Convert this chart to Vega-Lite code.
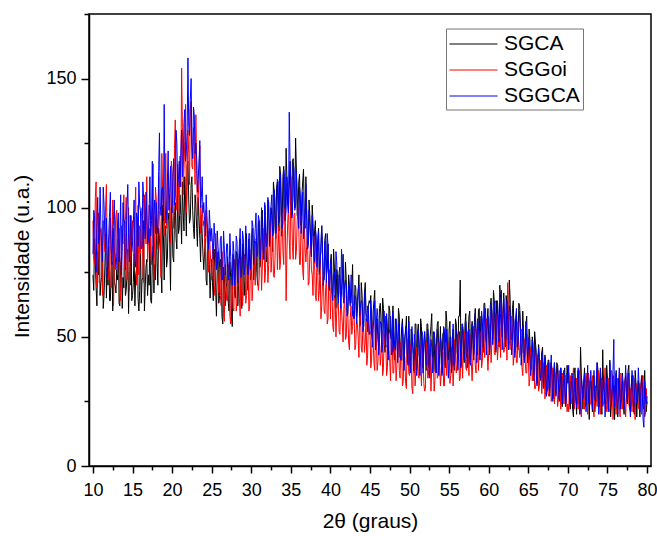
{
  "$schema": "https://vega.github.io/schema/vega-lite/v6.json",
  "width": 562,
  "height": 452,
  "autosize": {"type": "none"},
  "padding": {"left": 89, "top": 14, "right": 6, "bottom": 70},
  "background": "white",
  "config": {
    "font": "Liberation Sans",
    "view": {"stroke": "black", "strokeWidth": 1.5},
    "axis": {
      "grid": false,
      "domainColor": "black",
      "domainWidth": 1.5,
      "tickColor": "black",
      "tickWidth": 1.5,
      "labelColor": "black",
      "labelFontSize": 18,
      "titleColor": "black",
      "titleFontSize": 21,
      "titleFontWeight": "normal"
    }
  },
  "data": {
    "values": [
      {"t":10,"SGCA":74,"SGGoi":95,"SGGCA":82},{"t":10.2,"SGCA":88,"SGGoi":78,"SGGCA":97},{"t":10.4,"SGCA":69,"SGGoi":110,"SGGCA":75},{"t":10.6,"SGCA":83,"SGGoi":84,"SGGCA":104},{"t":10.8,"SGCA":95,"SGGoi":71,"SGGCA":90},
      {"t":11,"SGCA":71,"SGGoi":92,"SGGCA":93},{"t":11.2,"SGCA":84,"SGGoi":66,"SGGCA":79},{"t":11.4,"SGCA":66,"SGGoi":88,"SGGCA":101},{"t":11.6,"SGCA":90,"SGGoi":101,"SGGCA":84},{"t":11.8,"SGCA":77,"SGGoi":80,"SGGCA":73},
      {"t":12,"SGCA":85,"SGGoi":73,"SGGCA":90},{"t":12.2,"SGCA":64,"SGGoi":96,"SGGCA":106},{"t":12.4,"SGCA":79,"SGGoi":85,"SGGCA":78},{"t":12.6,"SGCA":92,"SGGoi":62,"SGGCA":95},{"t":12.8,"SGCA":70,"SGGoi":90,"SGGCA":83},
      {"t":13,"SGCA":76,"SGGoi":99,"SGGCA":81},{"t":13.2,"SGCA":88,"SGGoi":81,"SGGCA":98},{"t":13.4,"SGCA":62,"SGGoi":70,"SGGCA":88},{"t":13.6,"SGCA":81,"SGGoi":93,"SGGCA":74},{"t":13.8,"SGCA":73,"SGGoi":86,"SGGCA":102},
      {"t":14,"SGCA":90,"SGGoi":76,"SGGCA":95},{"t":14.2,"SGCA":68,"SGGoi":104,"SGGCA":84},{"t":14.4,"SGCA":84,"SGGoi":83,"SGGCA":109},{"t":14.6,"SGCA":75,"SGGoi":68,"SGGCA":79},{"t":14.8,"SGCA":97,"SGGoi":91,"SGGCA":92},
      {"t":15,"SGCA":66,"SGGoi":95,"SGGCA":86},{"t":15.2,"SGCA":82,"SGGoi":79,"SGGCA":103},{"t":15.4,"SGCA":74,"SGGoi":108,"SGGCA":77},{"t":15.6,"SGCA":91,"SGGoi":86,"SGGCA":96},{"t":15.8,"SGCA":60,"SGGoi":74,"SGGCA":110},
      {"t":16,"SGCA":87,"SGGoi":82,"SGGCA":99},{"t":16.2,"SGCA":72,"SGGoi":100,"SGGCA":85},{"t":16.4,"SGCA":95,"SGGoi":71,"SGGCA":104},{"t":16.6,"SGCA":69,"SGGoi":94,"SGGCA":88},{"t":16.8,"SGCA":80,"SGGoi":112,"SGGCA":97},
      {"t":17,"SGCA":74,"SGGoi":86,"SGGCA":87},{"t":17.2,"SGCA":92,"SGGoi":97,"SGGCA":112},{"t":17.4,"SGCA":63,"SGGoi":78,"SGGCA":95},{"t":17.6,"SGCA":85,"SGGoi":117,"SGGCA":81},{"t":17.8,"SGCA":78,"SGGoi":90,"SGGCA":103},
      {"t":18,"SGCA":96,"SGGoi":103,"SGGCA":102},{"t":18.2,"SGCA":70,"SGGoi":84,"SGGCA":90},{"t":18.4,"SGCA":88,"SGGoi":99,"SGGCA":129},{"t":18.6,"SGCA":76,"SGGoi":73,"SGGCA":97},{"t":18.8,"SGCA":101,"SGGoi":107,"SGGCA":108},
      {"t":19,"SGCA":72,"SGGoi":89,"SGGCA":140},{"t":19.2,"SGCA":93,"SGGoi":121,"SGGCA":94},{"t":19.4,"SGCA":80,"SGGoi":95,"SGGCA":110},{"t":19.6,"SGCA":98,"SGGoi":104,"SGGCA":99},{"t":19.8,"SGCA":68,"SGGoi":86,"SGGCA":116},
      {"t":20,"SGCA":95,"SGGoi":114,"SGGCA":98},{"t":20.2,"SGCA":79,"SGGoi":92,"SGGCA":119},{"t":20.4,"SGCA":102,"SGGoi":134,"SGGCA":104},{"t":20.6,"SGCA":84,"SGGoi":99,"SGGCA":125},{"t":20.8,"SGCA":90,"SGGoi":108,"SGGCA":111},
      {"t":21,"SGCA":105,"SGGoi":120,"SGGCA":108},{"t":21.2,"SGCA":86,"SGGoi":154,"SGGCA":130},{"t":21.4,"SGCA":98,"SGGoi":105,"SGGCA":117},{"t":21.6,"SGCA":112,"SGGoi":126,"SGGCA":138},{"t":21.8,"SGCA":89,"SGGoi":98,"SGGCA":122},
      {"t":22,"SGCA":118,"SGGoi":130,"SGGCA":158},{"t":22.2,"SGCA":94,"SGGoi":109,"SGGCA":128},{"t":22.4,"SGCA":109,"SGGoi":141,"SGGCA":150},{"t":22.6,"SGCA":99,"SGGoi":115,"SGGCA":119},{"t":22.8,"SGCA":88,"SGGoi":124,"SGGCA":136},
      {"t":23,"SGCA":101,"SGGoi":136,"SGGCA":125},{"t":23.2,"SGCA":85,"SGGoi":97,"SGGCA":106},{"t":23.4,"SGCA":96,"SGGoi":112,"SGGCA":118},{"t":23.6,"SGCA":79,"SGGoi":90,"SGGCA":100},{"t":23.8,"SGCA":90,"SGGoi":101,"SGGCA":112},
      {"t":24,"SGCA":76,"SGGoi":95,"SGGCA":102},{"t":24.2,"SGCA":88,"SGGoi":80,"SGGCA":89},{"t":24.4,"SGCA":70,"SGGoi":91,"SGGCA":97},{"t":24.6,"SGCA":84,"SGGoi":75,"SGGCA":84},{"t":24.8,"SGCA":65,"SGGoi":84,"SGGCA":93},
      {"t":25,"SGCA":80,"SGGoi":72,"SGGCA":92},{"t":25.2,"SGCA":64,"SGGoi":86,"SGGCA":80},{"t":25.4,"SGCA":77,"SGGoi":66,"SGGCA":88},{"t":25.6,"SGCA":58,"SGGoi":81,"SGGCA":76},{"t":25.8,"SGCA":83,"SGGoi":74,"SGGCA":85},
      {"t":26,"SGCA":66,"SGGoi":79,"SGGCA":77},{"t":26.2,"SGCA":79,"SGGoi":62,"SGGCA":89},{"t":26.4,"SGCA":55,"SGGoi":75,"SGGCA":73},{"t":26.6,"SGCA":74,"SGGoi":56,"SGGCA":84},{"t":26.8,"SGCA":68,"SGGoi":70,"SGGCA":79},
      {"t":27,"SGCA":81,"SGGoi":64,"SGGCA":86},{"t":27.2,"SGCA":60,"SGGoi":76,"SGGCA":74},{"t":27.4,"SGCA":73,"SGGoi":55,"SGGCA":81},{"t":27.6,"SGCA":54,"SGGoi":71,"SGGCA":70},{"t":27.8,"SGCA":77,"SGGoi":60,"SGGCA":83},
      {"t":28,"SGCA":65,"SGGoi":77,"SGGCA":75},{"t":28.2,"SGCA":82,"SGGoi":63,"SGGCA":87},{"t":28.4,"SGCA":70,"SGGoi":80,"SGGCA":79},{"t":28.6,"SGCA":88,"SGGoi":58,"SGGCA":92},{"t":28.8,"SGCA":61,"SGGoi":73,"SGGCA":77},
      {"t":29,"SGCA":84,"SGGoi":68,"SGGCA":88},{"t":29.2,"SGCA":72,"SGGoi":81,"SGGCA":78},{"t":29.4,"SGCA":90,"SGGoi":66,"SGGCA":85},{"t":29.6,"SGCA":68,"SGGoi":78,"SGGCA":74},{"t":29.8,"SGCA":79,"SGGoi":62,"SGGCA":90},
      {"t":30,"SGCA":74,"SGGoi":84,"SGGCA":80},{"t":30.2,"SGCA":92,"SGGoi":70,"SGGCA":93},{"t":30.4,"SGCA":78,"SGGoi":79,"SGGCA":86},{"t":30.6,"SGCA":86,"SGGoi":88,"SGGCA":98},{"t":30.8,"SGCA":70,"SGGoi":72,"SGGCA":82},
      {"t":31,"SGCA":95,"SGGoi":73,"SGGCA":95},{"t":31.2,"SGCA":80,"SGGoi":86,"SGGCA":84},{"t":31.4,"SGCA":99,"SGGoi":77,"SGGCA":91},{"t":31.6,"SGCA":83,"SGGoi":92,"SGGCA":80},{"t":31.8,"SGCA":91,"SGGoi":75,"SGGCA":97},
      {"t":32,"SGCA":84,"SGGoi":90,"SGGCA":87},{"t":32.2,"SGCA":102,"SGGoi":78,"SGGCA":100},{"t":32.4,"SGCA":88,"SGGoi":95,"SGGCA":94},{"t":32.6,"SGCA":97,"SGGoi":81,"SGGCA":105},{"t":32.8,"SGCA":110,"SGGoi":74,"SGGCA":90},
      {"t":33,"SGCA":92,"SGGoi":80,"SGGCA":103},{"t":33.2,"SGCA":108,"SGGoi":97,"SGGCA":92},{"t":33.4,"SGCA":99,"SGGoi":85,"SGGCA":110},{"t":33.6,"SGCA":116,"SGGoi":76,"SGGCA":97},{"t":33.8,"SGCA":89,"SGGoi":93,"SGGCA":101},
      {"t":34,"SGCA":112,"SGGoi":83,"SGGCA":94},{"t":34.2,"SGCA":96,"SGGoi":100,"SGGCA":112},{"t":34.4,"SGCA":123,"SGGoi":64,"SGGCA":99},{"t":34.6,"SGCA":101,"SGGoi":94,"SGGCA":108},{"t":34.8,"SGCA":108,"SGGoi":88,"SGGCA":137},
      {"t":35,"SGCA":99,"SGGoi":112,"SGGCA":110},{"t":35.2,"SGCA":118,"SGGoi":85,"SGGCA":97},{"t":35.4,"SGCA":104,"SGGoi":97,"SGGCA":115},{"t":35.6,"SGCA":127,"SGGoi":80,"SGGCA":101},{"t":35.8,"SGCA":97,"SGGoi":95,"SGGCA":106},
      {"t":36,"SGCA":110,"SGGoi":93,"SGGCA":92},{"t":36.2,"SGCA":94,"SGGoi":78,"SGGCA":105},{"t":36.4,"SGCA":105,"SGGoi":90,"SGGCA":96},{"t":36.6,"SGCA":115,"SGGoi":72,"SGGCA":88},{"t":36.8,"SGCA":92,"SGGoi":84,"SGGCA":100},
      {"t":37,"SGCA":100,"SGGoi":85,"SGGCA":96},{"t":37.2,"SGCA":86,"SGGoi":70,"SGGCA":85},{"t":37.4,"SGCA":97,"SGGoi":82,"SGGCA":93},{"t":37.6,"SGCA":82,"SGGoi":76,"SGGCA":81},{"t":37.8,"SGCA":94,"SGGoi":66,"SGGCA":88},
      {"t":38,"SGCA":91,"SGGoi":78,"SGGCA":79},{"t":38.2,"SGCA":78,"SGGoi":64,"SGGCA":89},{"t":38.4,"SGCA":88,"SGGoi":75,"SGGCA":84},{"t":38.6,"SGCA":74,"SGGoi":68,"SGGCA":75},{"t":38.8,"SGCA":83,"SGGoi":57,"SGGCA":86},
      {"t":39,"SGCA":85,"SGGoi":71,"SGGCA":82},{"t":39.2,"SGCA":72,"SGGoi":60,"SGGCA":73},{"t":39.4,"SGCA":90,"SGGoi":69,"SGGCA":79},{"t":39.6,"SGCA":76,"SGGoi":55,"SGGCA":90},{"t":39.8,"SGCA":68,"SGGoi":73,"SGGCA":70},
      {"t":40,"SGCA":79,"SGGoi":57,"SGGCA":76},{"t":40.2,"SGCA":67,"SGGoi":68,"SGGCA":68},{"t":40.4,"SGCA":84,"SGGoi":52,"SGGCA":74},{"t":40.6,"SGCA":70,"SGGoi":65,"SGGCA":65},{"t":40.8,"SGCA":76,"SGGoi":60,"SGGCA":79},
      {"t":41,"SGCA":63,"SGGoi":63,"SGGCA":63},{"t":41.2,"SGCA":77,"SGGoi":51,"SGGCA":72},{"t":41.4,"SGCA":68,"SGGoi":61,"SGGCA":84},{"t":41.6,"SGCA":82,"SGGoi":48,"SGGCA":66},{"t":41.8,"SGCA":65,"SGGoi":66,"SGGCA":70},
      {"t":42,"SGCA":72,"SGGoi":50,"SGGCA":69},{"t":42.2,"SGCA":59,"SGGoi":59,"SGGCA":60},{"t":42.4,"SGCA":70,"SGGoi":45,"SGGCA":66},{"t":42.6,"SGCA":63,"SGGoi":62,"SGGCA":74},{"t":42.8,"SGCA":78,"SGGoi":54,"SGGCA":58},
      {"t":43,"SGCA":57,"SGGoi":58,"SGGCA":57},{"t":43.2,"SGCA":69,"SGGoi":47,"SGGCA":65},{"t":43.4,"SGCA":64,"SGGoi":55,"SGGCA":59},{"t":43.6,"SGCA":74,"SGGoi":42,"SGGCA":70},{"t":43.8,"SGCA":55,"SGGoi":60,"SGGCA":62},
      {"t":44,"SGCA":66,"SGGoi":44,"SGGCA":63},{"t":44.2,"SGCA":54,"SGGoi":53,"SGGCA":54},{"t":44.4,"SGCA":71,"SGGoi":48,"SGGCA":68},{"t":44.6,"SGCA":58,"SGGoi":39,"SGGCA":56},{"t":44.8,"SGCA":62,"SGGoi":56,"SGGCA":60},
      {"t":45,"SGCA":63,"SGGoi":52,"SGGCA":51},{"t":45.2,"SGCA":51,"SGGoi":41,"SGGCA":59},{"t":45.4,"SGCA":60,"SGGoi":49,"SGGCA":53},{"t":45.6,"SGCA":68,"SGGoi":37,"SGGCA":64},{"t":45.8,"SGCA":53,"SGGoi":50,"SGGCA":56},
      {"t":46,"SGCA":49,"SGGoi":40,"SGGCA":57},{"t":46.2,"SGCA":61,"SGGoi":48,"SGGCA":49},{"t":46.4,"SGCA":56,"SGGoi":44,"SGGCA":55},{"t":46.6,"SGCA":65,"SGGoi":35,"SGGCA":47},{"t":46.8,"SGCA":47,"SGGoi":51,"SGGCA":60},
      {"t":47,"SGCA":58,"SGGoi":47,"SGGCA":46},{"t":47.2,"SGCA":46,"SGGoi":38,"SGGCA":54},{"t":47.4,"SGCA":62,"SGGoi":45,"SGGCA":51},{"t":47.6,"SGCA":50,"SGGoi":33,"SGGCA":58},{"t":47.8,"SGCA":55,"SGGoi":49,"SGGCA":44},
      {"t":48,"SGCA":44,"SGGoi":36,"SGGCA":52},{"t":48.2,"SGCA":57,"SGGoi":45,"SGGCA":45},{"t":48.4,"SGCA":49,"SGGoi":39,"SGGCA":49},{"t":48.6,"SGCA":61,"SGGoi":48,"SGGCA":55},{"t":48.8,"SGCA":42,"SGGoi":34,"SGGCA":43},
      {"t":49,"SGCA":54,"SGGoi":44,"SGGCA":41},{"t":49.2,"SGCA":41,"SGGoi":33,"SGGCA":50},{"t":49.4,"SGCA":50,"SGGoi":42,"SGGCA":47},{"t":49.6,"SGCA":58,"SGGoi":30,"SGGCA":53},{"t":49.8,"SGCA":45,"SGGoi":46,"SGGCA":39},
      {"t":50,"SGCA":40,"SGGoi":35,"SGGCA":49},{"t":50.2,"SGCA":53,"SGGoi":43,"SGGCA":42},{"t":50.4,"SGCA":47,"SGGoi":28,"SGGCA":46},{"t":50.6,"SGCA":36,"SGGoi":41,"SGGCA":51},{"t":50.8,"SGCA":55,"SGGoi":37,"SGGCA":38},
      {"t":51,"SGCA":51,"SGGoi":44,"SGGCA":40},{"t":51.2,"SGCA":43,"SGGoi":34,"SGGCA":48},{"t":51.4,"SGCA":57,"SGGoi":40,"SGGCA":43},{"t":51.6,"SGCA":39,"SGGoi":47,"SGGCA":52},{"t":51.8,"SGCA":48,"SGGoi":32,"SGGCA":45},
      {"t":52,"SGCA":44,"SGGoi":30,"SGGCA":47},{"t":52.2,"SGCA":55,"SGGoi":42,"SGGCA":39},{"t":52.4,"SGCA":38,"SGGoi":36,"SGGCA":50},{"t":52.6,"SGCA":50,"SGGoi":45,"SGGCA":42},{"t":52.8,"SGCA":59,"SGGoi":38,"SGGCA":46},
      {"t":53,"SGCA":52,"SGGoi":41,"SGGCA":41},{"t":53.2,"SGCA":37,"SGGoi":33,"SGGCA":49},{"t":53.4,"SGCA":48,"SGGoi":46,"SGGCA":36},{"t":53.6,"SGCA":56,"SGGoi":35,"SGGCA":47},{"t":53.8,"SGCA":42,"SGGoi":39,"SGGCA":44},
      {"t":54,"SGCA":40,"SGGoi":36,"SGGCA":48},{"t":54.2,"SGCA":51,"SGGoi":44,"SGGCA":40},{"t":54.4,"SGCA":45,"SGGoi":31,"SGGCA":53},{"t":54.6,"SGCA":60,"SGGoi":42,"SGGCA":43},{"t":54.8,"SGCA":43,"SGGoi":48,"SGGCA":46},
      {"t":55,"SGCA":53,"SGGoi":45,"SGGCA":42},{"t":55.2,"SGCA":41,"SGGoi":35,"SGGCA":50},{"t":55.4,"SGCA":49,"SGGoi":43,"SGGCA":44},{"t":55.6,"SGCA":38,"SGGoi":38,"SGGCA":39},{"t":55.8,"SGCA":57,"SGGoi":47,"SGGCA":49},
      {"t":56,"SGCA":44,"SGGoi":39,"SGGCA":51},{"t":56.2,"SGCA":58,"SGGoi":48,"SGGCA":43},{"t":56.4,"SGCA":72,"SGGoi":34,"SGGCA":48},{"t":56.6,"SGCA":46,"SGGoi":44,"SGGCA":55},{"t":56.8,"SGCA":52,"SGGoi":50,"SGGCA":45},
      {"t":57,"SGCA":55,"SGGoi":47,"SGGCA":44},{"t":57.2,"SGCA":42,"SGGoi":37,"SGGCA":52},{"t":57.4,"SGCA":51,"SGGoi":45,"SGGCA":46},{"t":57.6,"SGCA":60,"SGGoi":51,"SGGCA":40},{"t":57.8,"SGCA":45,"SGGoi":40,"SGGCA":53},
      {"t":58,"SGCA":47,"SGGoi":42,"SGGCA":54},{"t":58.2,"SGCA":57,"SGGoi":50,"SGGCA":46},{"t":58.4,"SGCA":52,"SGGoi":36,"SGGCA":51},{"t":58.6,"SGCA":43,"SGGoi":48,"SGGCA":57},{"t":58.8,"SGCA":61,"SGGoi":44,"SGGCA":47},
      {"t":59,"SGCA":58,"SGGoi":52,"SGGCA":48},{"t":59.2,"SGCA":48,"SGGoi":41,"SGGCA":56},{"t":59.4,"SGCA":63,"SGGoi":49,"SGGCA":50},{"t":59.6,"SGCA":50,"SGGoi":57,"SGGCA":61},{"t":59.8,"SGCA":56,"SGGoi":45,"SGGCA":53},
      {"t":60,"SGCA":49,"SGGoi":44,"SGGCA":57},{"t":60.2,"SGCA":62,"SGGoi":55,"SGGCA":49},{"t":60.4,"SGCA":55,"SGGoi":48,"SGGCA":60},{"t":60.6,"SGCA":68,"SGGoi":60,"SGGCA":52},{"t":60.8,"SGCA":51,"SGGoi":43,"SGGCA":64},
      {"t":61,"SGCA":64,"SGGoi":56,"SGGCA":50},{"t":61.2,"SGCA":52,"SGGoi":46,"SGGCA":59},{"t":61.4,"SGCA":70,"SGGoi":53,"SGGCA":53},{"t":61.6,"SGCA":57,"SGGoi":64,"SGGCA":68},{"t":61.8,"SGCA":60,"SGGoi":48,"SGGCA":55},
      {"t":62,"SGCA":53,"SGGoi":45,"SGGCA":58},{"t":62.2,"SGCA":66,"SGGoi":58,"SGGCA":51},{"t":62.4,"SGCA":58,"SGGoi":71,"SGGCA":56},{"t":62.6,"SGCA":72,"SGGoi":49,"SGGCA":62},{"t":62.8,"SGCA":49,"SGGoi":54,"SGGCA":52},
      {"t":63,"SGCA":61,"SGGoi":52,"SGGCA":49},{"t":63.2,"SGCA":50,"SGGoi":43,"SGGCA":56},{"t":63.4,"SGCA":57,"SGGoi":50,"SGGCA":51},{"t":63.6,"SGCA":46,"SGGoi":40,"SGGCA":46},{"t":63.8,"SGCA":63,"SGGoi":47,"SGGCA":54},
      {"t":64,"SGCA":55,"SGGoi":48,"SGGCA":52},{"t":64.2,"SGCA":44,"SGGoi":38,"SGGCA":45},{"t":64.4,"SGCA":52,"SGGoi":45,"SGGCA":50},{"t":64.6,"SGCA":47,"SGGoi":41,"SGGCA":43},{"t":64.8,"SGCA":58,"SGGoi":36,"SGGCA":47},
      {"t":65,"SGCA":41,"SGGoi":43,"SGGCA":46},{"t":65.2,"SGCA":49,"SGGoi":34,"SGGCA":40},{"t":65.4,"SGCA":38,"SGGoi":41,"SGGCA":44},{"t":65.6,"SGCA":47,"SGGoi":37,"SGGCA":38},{"t":65.8,"SGCA":52,"SGGoi":30,"SGGCA":42},
      {"t":66,"SGCA":44,"SGGoi":33,"SGGCA":36},{"t":66.2,"SGCA":36,"SGGoi":40,"SGGCA":42},{"t":66.4,"SGCA":42,"SGGoi":31,"SGGCA":38},{"t":66.6,"SGCA":33,"SGGoi":38,"SGGCA":34},{"t":66.8,"SGCA":46,"SGGoi":35,"SGGCA":41},
      {"t":67,"SGCA":32,"SGGoi":36,"SGGCA":38},{"t":67.2,"SGCA":39,"SGGoi":29,"SGGCA":32},{"t":67.4,"SGCA":29,"SGGoi":34,"SGGCA":36},{"t":67.6,"SGCA":41,"SGGoi":27,"SGGCA":30},{"t":67.8,"SGCA":35,"SGGoi":38,"SGGCA":37},
      {"t":68,"SGCA":37,"SGGoi":28,"SGGCA":31},{"t":68.2,"SGCA":28,"SGGoi":35,"SGGCA":36},{"t":68.4,"SGCA":34,"SGGoi":30,"SGGCA":29},{"t":68.6,"SGCA":40,"SGGoi":33,"SGGCA":34},{"t":68.8,"SGCA":30,"SGGoi":26,"SGGCA":32},
      {"t":69,"SGCA":26,"SGGoi":32,"SGGCA":34},{"t":69.2,"SGCA":35,"SGGoi":25,"SGGCA":28},{"t":69.4,"SGCA":30,"SGGoi":30,"SGGCA":33},{"t":69.6,"SGCA":38,"SGGoi":35,"SGGCA":30},{"t":69.8,"SGCA":27,"SGGoi":27,"SGGCA":27},
      {"t":70,"SGCA":34,"SGGoi":24,"SGGCA":32},{"t":70.2,"SGCA":25,"SGGoi":31,"SGGCA":27},{"t":70.4,"SGCA":31,"SGGoi":27,"SGGCA":31},{"t":70.6,"SGCA":22,"SGGoi":33,"SGGCA":35},{"t":70.8,"SGCA":36,"SGGoi":22,"SGGCA":28},
      {"t":71,"SGCA":27,"SGGoi":30,"SGGCA":26},{"t":71.2,"SGCA":33,"SGGoi":26,"SGGCA":32},{"t":71.4,"SGCA":24,"SGGoi":34,"SGGCA":29},{"t":71.6,"SGCA":46,"SGGoi":21,"SGGCA":24},{"t":71.8,"SGCA":29,"SGGoi":29,"SGGCA":31},
      {"t":72,"SGCA":31,"SGGoi":25,"SGGCA":33},{"t":72.2,"SGCA":23,"SGGoi":32,"SGGCA":27},{"t":72.4,"SGCA":35,"SGGoi":28,"SGGCA":30},{"t":72.6,"SGCA":28,"SGGoi":36,"SGGCA":25},{"t":72.8,"SGCA":33,"SGGoi":24,"SGGCA":32},
      {"t":73,"SGCA":26,"SGGoi":31,"SGGCA":28},{"t":73.2,"SGCA":34,"SGGoi":22,"SGGCA":31},{"t":73.4,"SGCA":21,"SGGoi":29,"SGGCA":26},{"t":73.6,"SGCA":30,"SGGoi":26,"SGGCA":34},{"t":73.8,"SGCA":37,"SGGoi":33,"SGGCA":29},
      {"t":74,"SGCA":32,"SGGoi":27,"SGGCA":25},{"t":74.2,"SGCA":25,"SGGoi":34,"SGGCA":33},{"t":74.4,"SGCA":45,"SGGoi":23,"SGGCA":28},{"t":74.6,"SGCA":27,"SGGoi":30,"SGGCA":30},{"t":74.8,"SGCA":24,"SGGoi":25,"SGGCA":26},
      {"t":75,"SGCA":34,"SGGoi":32,"SGGCA":31},{"t":75.2,"SGCA":29,"SGGoi":21,"SGGCA":27},{"t":75.4,"SGCA":19,"SGGoi":28,"SGGCA":33},{"t":75.6,"SGCA":31,"SGGoi":35,"SGGCA":29},{"t":75.8,"SGCA":26,"SGGoi":27,"SGGCA":49},
      {"t":76,"SGCA":30,"SGGoi":24,"SGGCA":30},{"t":76.2,"SGCA":24,"SGGoi":30,"SGGCA":25},{"t":76.4,"SGCA":34,"SGGoi":26,"SGGCA":32},{"t":76.6,"SGCA":22,"SGGoi":19,"SGGCA":27},{"t":76.8,"SGCA":29,"SGGoi":29,"SGGCA":29},
      {"t":77,"SGCA":25,"SGGoi":31,"SGGCA":26},{"t":77.2,"SGCA":33,"SGGoi":25,"SGGCA":31},{"t":77.4,"SGCA":28,"SGGoi":28,"SGGCA":28},{"t":77.6,"SGCA":37,"SGGoi":33,"SGGCA":34},{"t":77.8,"SGCA":23,"SGGoi":22,"SGGCA":24},
      {"t":78,"SGCA":31,"SGGoi":26,"SGGCA":29},{"t":78.2,"SGCA":26,"SGGoi":29,"SGGCA":33},{"t":78.4,"SGCA":20,"SGGoi":23,"SGGCA":27},{"t":78.6,"SGCA":32,"SGGoi":31,"SGGCA":30},{"t":78.8,"SGCA":28,"SGGoi":27,"SGGCA":25},
      {"t":79,"SGCA":24,"SGGoi":22,"SGGCA":31},{"t":79.2,"SGCA":30,"SGGoi":28,"SGGCA":26},{"t":79.4,"SGCA":35,"SGGoi":32,"SGGCA":28},{"t":79.6,"SGCA":22,"SGGoi":25,"SGGCA":15},{"t":79.8,"SGCA":27,"SGGoi":20,"SGGCA":29},
      {"t":80,"SGCA":25,"SGGoi":24,"SGGCA":27},
      {"t":10.1,"SGCA":68,"SGGoi":80,"SGGCA":99},{"t":10.3,"SGCA":79,"SGGoi":104,"SGGCA":80},{"t":10.5,"SGCA":62,"SGGoi":69,"SGGCA":92},{"t":10.7,"SGCA":74,"SGGoi":98,"SGGCA":86},{"t":10.9,"SGCA":66,"SGGoi":90,"SGGCA":108},
      {"t":11.1,"SGCA":73,"SGGoi":76,"SGGCA":85},{"t":11.3,"SGCA":61,"SGGoi":95,"SGGCA":108},{"t":11.5,"SGCA":77,"SGGoi":83,"SGGCA":90},{"t":11.7,"SGCA":65,"SGGoi":109,"SGGCA":96},{"t":11.9,"SGCA":70,"SGGoi":72,"SGGCA":81},
      {"t":12.1,"SGCA":64,"SGGoi":92,"SGGCA":98},{"t":12.3,"SGCA":75,"SGGoi":69,"SGGCA":84},{"t":12.5,"SGCA":60,"SGGoi":103,"SGGCA":91},{"t":12.7,"SGCA":71,"SGGoi":80,"SGGCA":103},{"t":12.9,"SGCA":67,"SGGoi":97,"SGGCA":76},
      {"t":13.1,"SGCA":72,"SGGoi":74,"SGGCA":93},{"t":13.3,"SGCA":63,"SGGoi":92,"SGGCA":79},{"t":13.5,"SGCA":78,"SGGoi":64,"SGGCA":105},{"t":13.7,"SGCA":61,"SGGoi":88,"SGGCA":83},{"t":13.9,"SGCA":69,"SGGoi":105,"SGGCA":95},
      {"t":14.1,"SGCA":66,"SGGoi":95,"SGGCA":76},{"t":14.3,"SGCA":74,"SGGoi":72,"SGGCA":101},{"t":14.5,"SGCA":59,"SGGoi":100,"SGGCA":90},{"t":14.7,"SGCA":70,"SGGoi":80,"SGGCA":97},{"t":14.9,"SGCA":64,"SGGoi":86,"SGGCA":83},
      {"t":15.1,"SGCA":71,"SGGoi":82,"SGGCA":94},{"t":15.3,"SGCA":62,"SGGoi":97,"SGGCA":80},{"t":15.5,"SGCA":76,"SGGoi":70,"SGGCA":98},{"t":15.7,"SGCA":65,"SGGoi":101,"SGGCA":85},{"t":15.9,"SGCA":68,"SGGoi":93,"SGGCA":101},
      {"t":16.1,"SGCA":63,"SGGoi":96,"SGGCA":84},{"t":16.3,"SGCA":73,"SGGoi":78,"SGGCA":110},{"t":16.5,"SGCA":60,"SGGoi":105,"SGGCA":93},{"t":16.7,"SGCA":77,"SGGoi":86,"SGGCA":106},{"t":16.9,"SGCA":66,"SGGoi":79,"SGGCA":86},
      {"t":17.1,"SGCA":70,"SGGoi":101,"SGGCA":100},{"t":17.3,"SGCA":64,"SGGoi":83,"SGGCA":89},{"t":17.5,"SGCA":79,"SGGoi":95,"SGGCA":118},{"t":17.7,"SGCA":67,"SGGoi":72,"SGGCA":97},{"t":17.9,"SGCA":72,"SGGoi":108,"SGGCA":90},
      {"t":18.1,"SGCA":79,"SGGoi":89,"SGGCA":93},{"t":18.3,"SGCA":92,"SGGoi":112,"SGGCA":114},{"t":18.5,"SGCA":84,"SGGoi":91,"SGGCA":101},{"t":18.7,"SGCA":67,"SGGoi":121,"SGGCA":107},{"t":18.9,"SGCA":90,"SGGoi":96,"SGGCA":95},
      {"t":19.1,"SGCA":89,"SGGoi":103,"SGGCA":104},{"t":19.3,"SGCA":77,"SGGoi":92,"SGGCA":97},{"t":19.5,"SGCA":95,"SGGoi":113,"SGGCA":122},{"t":19.7,"SGCA":86,"SGGoi":98,"SGGCA":106},{"t":19.9,"SGCA":100,"SGGoi":118,"SGGCA":101},
      {"t":20.1,"SGCA":81,"SGGoi":100,"SGGCA":112},{"t":20.3,"SGCA":97,"SGGoi":123,"SGGCA":101},{"t":20.5,"SGCA":88,"SGGoi":105,"SGGCA":130},{"t":20.7,"SGCA":108,"SGGoi":117,"SGGCA":108},{"t":20.9,"SGCA":92,"SGGoi":97,"SGGCA":118},
      {"t":21.1,"SGCA":97,"SGGoi":108,"SGGCA":121},{"t":21.3,"SGCA":110,"SGGoi":131,"SGGCA":112},{"t":21.5,"SGCA":91,"SGGoi":115,"SGGCA":133},{"t":21.7,"SGCA":103,"SGGoi":140,"SGGCA":118},{"t":21.9,"SGCA":116,"SGGoi":112,"SGGCA":129},
      {"t":22.1,"SGCA":103,"SGGoi":121,"SGGCA":131},{"t":22.3,"SGCA":96,"SGGoi":138,"SGGCA":142},{"t":22.5,"SGCA":112,"SGGoi":116,"SGGCA":124},{"t":22.7,"SGCA":92,"SGGoi":131,"SGGCA":139},{"t":22.9,"SGCA":105,"SGGoi":109,"SGGCA":121},
      {"t":23.1,"SGCA":92,"SGGoi":118,"SGGCA":119},{"t":23.3,"SGCA":104,"SGGoi":104,"SGGCA":111},{"t":23.5,"SGCA":88,"SGGoi":124,"SGGCA":126},{"t":23.7,"SGCA":97,"SGGoi":96,"SGGCA":104},{"t":23.9,"SGCA":82,"SGGoi":93,"SGGCA":98},
      {"t":24.1,"SGCA":83,"SGGoi":88,"SGGCA":95},{"t":24.3,"SGCA":72,"SGGoi":99,"SGGCA":105},{"t":24.5,"SGCA":91,"SGGoi":84,"SGGCA":90},{"t":24.7,"SGCA":78,"SGGoi":92,"SGGCA":99},{"t":24.9,"SGCA":74,"SGGoi":78,"SGGCA":87},
      {"t":25.1,"SGCA":71,"SGGoi":82,"SGGCA":86},{"t":25.3,"SGCA":84,"SGGoi":70,"SGGCA":94},{"t":25.5,"SGCA":69,"SGGoi":90,"SGGCA":82},{"t":25.7,"SGCA":76,"SGGoi":76,"SGGCA":91},{"t":25.9,"SGCA":63,"SGGoi":67,"SGGCA":80},
      {"t":26.1,"SGCA":80,"SGGoi":66,"SGGCA":88},{"t":26.3,"SGCA":58,"SGGoi":83,"SGGCA":72},{"t":26.5,"SGCA":77,"SGGoi":59,"SGGCA":91},{"t":26.7,"SGCA":62,"SGGoi":78,"SGGCA":74},{"t":26.9,"SGCA":71,"SGGoi":64,"SGGCA":86},
      {"t":27.1,"SGCA":63,"SGGoi":78,"SGGCA":72},{"t":27.3,"SGCA":79,"SGGoi":58,"SGGCA":90},{"t":27.5,"SGCA":58,"SGGoi":74,"SGGCA":75},{"t":27.7,"SGCA":82,"SGGoi":61,"SGGCA":87},{"t":27.9,"SGCA":66,"SGGoi":80,"SGGCA":70},
      {"t":28.1,"SGCA":83,"SGGoi":60,"SGGCA":89},{"t":28.3,"SGCA":62,"SGGoi":79,"SGGCA":71},{"t":28.5,"SGCA":80,"SGGoi":65,"SGGCA":86},{"t":28.7,"SGCA":66,"SGGoi":81,"SGGCA":73},{"t":28.9,"SGCA":86,"SGGoi":62,"SGGCA":91},
      {"t":29.1,"SGCA":66,"SGGoi":82,"SGGCA":74},{"t":29.3,"SGCA":85,"SGGoi":63,"SGGCA":93},{"t":29.5,"SGCA":70,"SGGoi":78,"SGGCA":77},{"t":29.7,"SGCA":88,"SGGoi":60,"SGGCA":90},{"t":29.9,"SGCA":72,"SGGoi":79,"SGGCA":76},
      {"t":30.1,"SGCA":90,"SGGoi":64,"SGGCA":95},{"t":30.3,"SGCA":72,"SGGoi":83,"SGGCA":78},{"t":30.5,"SGCA":87,"SGGoi":70,"SGGCA":92},{"t":30.7,"SGCA":75,"SGGoi":86,"SGGCA":81},{"t":30.9,"SGCA":94,"SGGoi":68,"SGGCA":97},
      {"t":31.1,"SGCA":77,"SGGoi":88,"SGGCA":80},{"t":31.3,"SGCA":97,"SGGoi":68,"SGGCA":100},{"t":31.5,"SGCA":80,"SGGoi":85,"SGGCA":83},{"t":31.7,"SGCA":101,"SGGoi":71,"SGGCA":102},{"t":31.9,"SGCA":79,"SGGoi":90,"SGGCA":85},
      {"t":32.1,"SGCA":103,"SGGoi":71,"SGGCA":104},{"t":32.3,"SGCA":85,"SGGoi":92,"SGGCA":86},{"t":32.5,"SGCA":100,"SGGoi":75,"SGGCA":101},{"t":32.7,"SGCA":83,"SGGoi":94,"SGGCA":89},{"t":32.9,"SGCA":106,"SGGoi":73,"SGGCA":107},
      {"t":33.1,"SGCA":88,"SGGoi":96,"SGGCA":90},{"t":33.3,"SGCA":110,"SGGoi":76,"SGGCA":111},{"t":33.5,"SGCA":91,"SGGoi":93,"SGGCA":94},{"t":33.7,"SGCA":113,"SGGoi":79,"SGGCA":113},{"t":33.9,"SGCA":93,"SGGoi":98,"SGGCA":92},
      {"t":34.1,"SGCA":116,"SGGoi":78,"SGGCA":115},{"t":34.3,"SGCA":95,"SGGoi":99,"SGGCA":95},{"t":34.5,"SGCA":112,"SGGoi":82,"SGGCA":112},{"t":34.7,"SGCA":98,"SGGoi":101,"SGGCA":98},{"t":34.9,"SGCA":118,"SGGoi":80,"SGGCA":118},
      {"t":35.1,"SGCA":96,"SGGoi":101,"SGGCA":96},{"t":35.3,"SGCA":119,"SGGoi":80,"SGGCA":117},{"t":35.5,"SGCA":100,"SGGoi":98,"SGGCA":99},{"t":35.7,"SGCA":115,"SGGoi":83,"SGGCA":114},{"t":35.9,"SGCA":98,"SGGoi":100,"SGGCA":97},
      {"t":36.1,"SGCA":113,"SGGoi":78,"SGGCA":108},{"t":36.3,"SGCA":93,"SGGoi":97,"SGGCA":90},{"t":36.5,"SGCA":110,"SGGoi":76,"SGGCA":106},{"t":36.7,"SGCA":96,"SGGoi":95,"SGGCA":93},{"t":36.9,"SGCA":112,"SGGoi":79,"SGGCA":109},
      {"t":37.1,"SGCA":86,"SGGoi":90,"SGGCA":84},{"t":37.3,"SGCA":103,"SGGoi":71,"SGGCA":99},{"t":37.5,"SGCA":88,"SGGoi":87,"SGGCA":86},{"t":37.7,"SGCA":101,"SGGoi":74,"SGGCA":97},{"t":37.9,"SGCA":85,"SGGoi":89,"SGGCA":83},
      {"t":38.1,"SGCA":95,"SGGoi":66,"SGGCA":92},{"t":38.3,"SGCA":78,"SGGoi":82,"SGGCA":77},{"t":38.5,"SGCA":92,"SGGoi":64,"SGGCA":91},{"t":38.7,"SGCA":80,"SGGoi":80,"SGGCA":78},{"t":38.9,"SGCA":93,"SGGoi":62,"SGGCA":93},
      {"t":39.1,"SGCA":72,"SGGoi":75,"SGGCA":70},{"t":39.3,"SGCA":88,"SGGoi":59,"SGGCA":87},{"t":39.5,"SGCA":74,"SGGoi":73,"SGGCA":71},{"t":39.7,"SGCA":86,"SGGoi":57,"SGGCA":85},{"t":39.9,"SGCA":71,"SGGoi":76,"SGGCA":68},
      {"t":40.1,"SGCA":82,"SGGoi":69,"SGGCA":80},{"t":40.3,"SGCA":66,"SGGoi":54,"SGGCA":64},{"t":40.5,"SGCA":77,"SGGoi":66,"SGGCA":75},{"t":40.7,"SGCA":61,"SGGoi":50,"SGGCA":83},{"t":40.9,"SGCA":73,"SGGoi":63,"SGGCA":67},
      {"t":41.1,"SGCA":75,"SGGoi":52,"SGGCA":74},{"t":41.3,"SGCA":61,"SGGoi":64,"SGGCA":61},{"t":41.5,"SGCA":73,"SGGoi":55,"SGGCA":77},{"t":41.7,"SGCA":66,"SGGoi":61,"SGGCA":63},{"t":41.9,"SGCA":79,"SGGoi":49,"SGGCA":72},
      {"t":42.1,"SGCA":60,"SGGoi":61,"SGGCA":58},{"t":42.3,"SGCA":74,"SGGoi":48,"SGGCA":70},{"t":42.5,"SGCA":63,"SGGoi":57,"SGGCA":62},{"t":42.7,"SGCA":69,"SGGoi":51,"SGGCA":73},{"t":42.9,"SGCA":58,"SGGoi":63,"SGGCA":60},
      {"t":43.1,"SGCA":70,"SGGoi":45,"SGGCA":66},{"t":43.3,"SGCA":58,"SGGoi":57,"SGGCA":55},{"t":43.5,"SGCA":67,"SGGoi":50,"SGGCA":68},{"t":43.7,"SGCA":54,"SGGoi":61,"SGGCA":58},{"t":43.9,"SGCA":71,"SGGoi":46,"SGGCA":64},
      {"t":44.1,"SGCA":55,"SGGoi":54,"SGGCA":52},{"t":44.3,"SGCA":67,"SGGoi":44,"SGGCA":65},{"t":44.5,"SGCA":59,"SGGoi":57,"SGGCA":57},{"t":44.7,"SGCA":52,"SGGoi":43,"SGGCA":62},{"t":44.9,"SGCA":64,"SGGoi":51,"SGGCA":51},
      {"t":45.1,"SGCA":66,"SGGoi":38,"SGGCA":64},{"t":45.3,"SGCA":49,"SGGoi":55,"SGGCA":46},{"t":45.5,"SGCA":64,"SGGoi":40,"SGGCA":58},{"t":45.7,"SGCA":47,"SGGoi":56,"SGGCA":45},{"t":45.9,"SGCA":57,"SGGoi":37,"SGGCA":61},
      {"t":46.1,"SGCA":45,"SGGoi":50,"SGGCA":43},{"t":46.3,"SGCA":63,"SGGoi":39,"SGGCA":56},{"t":46.5,"SGCA":51,"SGGoi":52,"SGGCA":44},{"t":46.7,"SGCA":61,"SGGoi":38,"SGGCA":60},{"t":46.9,"SGCA":44,"SGGoi":47,"SGGCA":49},
      {"t":47.1,"SGCA":57,"SGGoi":35,"SGGCA":59},{"t":47.3,"SGCA":43,"SGGoi":51,"SGGCA":41},{"t":47.5,"SGCA":60,"SGGoi":40,"SGGCA":53},{"t":47.7,"SGCA":49,"SGGoi":52,"SGGCA":43},{"t":47.9,"SGCA":62,"SGGoi":36,"SGGCA":60},
      {"t":48.1,"SGCA":41,"SGGoi":46,"SGGCA":47},{"t":48.3,"SGCA":55,"SGGoi":33,"SGGCA":57},{"t":48.5,"SGCA":42,"SGGoi":49,"SGGCA":40},{"t":48.7,"SGCA":58,"SGGoi":37,"SGGCA":52},{"t":48.9,"SGCA":46,"SGGoi":48,"SGGCA":41},
      {"t":49.1,"SGCA":57,"SGGoi":31,"SGGCA":55},{"t":49.3,"SGCA":39,"SGGoi":44,"SGGCA":37},{"t":49.5,"SGCA":52,"SGGoi":32,"SGGCA":54},{"t":49.7,"SGCA":40,"SGGoi":49,"SGGCA":44},{"t":49.9,"SGCA":58,"SGGoi":36,"SGGCA":56},
      {"t":50.1,"SGCA":38,"SGGoi":47,"SGGCA":36},{"t":50.3,"SGCA":51,"SGGoi":30,"SGGCA":54},{"t":50.5,"SGCA":43,"SGGoi":44,"SGGCA":37},{"t":50.7,"SGCA":55,"SGGoi":31,"SGGCA":48},{"t":50.9,"SGCA":37,"SGGoi":46,"SGGCA":35},
      {"t":51.1,"SGCA":55,"SGGoi":35,"SGGCA":53},{"t":51.3,"SGCA":41,"SGGoi":47,"SGGCA":35},{"t":51.5,"SGCA":54,"SGGoi":31,"SGGCA":50},{"t":51.7,"SGCA":38,"SGGoi":43,"SGGCA":36},{"t":51.9,"SGCA":52,"SGGoi":29,"SGGCA":52},
      {"t":52.1,"SGCA":37,"SGGoi":48,"SGGCA":39},{"t":52.3,"SGCA":55,"SGGoi":34,"SGGCA":53},{"t":52.5,"SGCA":40,"SGGoi":47,"SGGCA":34},{"t":52.7,"SGCA":54,"SGGoi":29,"SGGCA":49},{"t":52.9,"SGCA":38,"SGGoi":42,"SGGCA":36},
      {"t":53.1,"SGCA":51,"SGGoi":29,"SGGCA":52},{"t":53.3,"SGCA":36,"SGGoi":47,"SGGCA":38},{"t":53.5,"SGCA":55,"SGGoi":34,"SGGCA":53},{"t":53.7,"SGCA":42,"SGGoi":48,"SGGCA":35},{"t":53.9,"SGCA":54,"SGGoi":31,"SGGCA":50},
      {"t":54.1,"SGCA":36,"SGGoi":45,"SGGCA":35},{"t":54.3,"SGCA":52,"SGGoi":31,"SGGCA":54},{"t":54.5,"SGCA":38,"SGGoi":48,"SGGCA":39},{"t":54.7,"SGCA":56,"SGGoi":35,"SGGCA":53},{"t":54.9,"SGCA":41,"SGGoi":47,"SGGCA":34},
      {"t":55.1,"SGCA":56,"SGGoi":32,"SGGCA":50},{"t":55.3,"SGCA":38,"SGGoi":46,"SGGCA":36},{"t":55.5,"SGCA":53,"SGGoi":31,"SGGCA":55},{"t":55.7,"SGCA":37,"SGGoi":49,"SGGCA":40},{"t":55.9,"SGCA":55,"SGGoi":36,"SGGCA":53},
      {"t":56.1,"SGCA":42,"SGGoi":51,"SGGCA":37},{"t":56.3,"SGCA":58,"SGGoi":33,"SGGCA":52},{"t":56.5,"SGCA":39,"SGGoi":46,"SGGCA":38},{"t":56.7,"SGCA":54,"SGGoi":34,"SGGCA":55},{"t":56.9,"SGCA":40,"SGGoi":52,"SGGCA":41},
      {"t":57.1,"SGCA":59,"SGGoi":38,"SGGCA":56},{"t":57.3,"SGCA":44,"SGGoi":52,"SGGCA":38},{"t":57.5,"SGCA":58,"SGGoi":35,"SGGCA":53},{"t":57.7,"SGCA":41,"SGGoi":48,"SGGCA":39},{"t":57.9,"SGCA":56,"SGGoi":33,"SGGCA":55},
      {"t":58.1,"SGCA":41,"SGGoi":54,"SGGCA":43},{"t":58.3,"SGCA":61,"SGGoi":39,"SGGCA":59},{"t":58.5,"SGCA":46,"SGGoi":53,"SGGCA":40},{"t":58.7,"SGCA":60,"SGGoi":37,"SGGCA":54},{"t":58.9,"SGCA":43,"SGGoi":51,"SGGCA":41},
      {"t":59.1,"SGCA":58,"SGGoi":38,"SGGCA":60},{"t":59.3,"SGCA":44,"SGGoi":56,"SGGCA":46},{"t":59.5,"SGCA":63,"SGGoi":42,"SGGCA":61},{"t":59.7,"SGCA":48,"SGGoi":57,"SGGCA":43},{"t":59.9,"SGCA":61,"SGGoi":37,"SGGCA":58},
      {"t":60.1,"SGCA":45,"SGGoi":54,"SGGCA":43},{"t":60.3,"SGCA":65,"SGGoi":40,"SGGCA":63},{"t":60.5,"SGCA":49,"SGGoi":57,"SGGCA":47},{"t":60.7,"SGCA":64,"SGGoi":44,"SGGCA":62},{"t":60.9,"SGCA":44,"SGGoi":59,"SGGCA":45},
      {"t":61.1,"SGCA":62,"SGGoi":41,"SGGCA":64},{"t":61.3,"SGCA":46,"SGGoi":55,"SGGCA":48},{"t":61.5,"SGCA":65,"SGGoi":42,"SGGCA":59},{"t":61.7,"SGCA":50,"SGGoi":58,"SGGCA":45},{"t":61.9,"SGCA":67,"SGGoi":44,"SGGCA":65},
      {"t":62.1,"SGCA":46,"SGGoi":59,"SGGCA":47},{"t":62.3,"SGCA":63,"SGGoi":41,"SGGCA":64},{"t":62.5,"SGCA":47,"SGGoi":56,"SGGCA":45},{"t":62.7,"SGCA":65,"SGGoi":45,"SGGCA":60},{"t":62.9,"SGCA":49,"SGGoi":58,"SGGCA":43},
      {"t":63.1,"SGCA":64,"SGGoi":39,"SGGCA":58},{"t":63.3,"SGCA":44,"SGGoi":53,"SGGCA":42},{"t":63.5,"SGCA":60,"SGGoi":40,"SGGCA":61},{"t":63.7,"SGCA":45,"SGGoi":56,"SGGCA":47},{"t":63.9,"SGCA":62,"SGGoi":42,"SGGCA":60},
      {"t":64.1,"SGCA":43,"SGGoi":53,"SGGCA":39},{"t":64.3,"SGCA":60,"SGGoi":35,"SGGCA":54},{"t":64.5,"SGCA":42,"SGGoi":49,"SGGCA":40},{"t":64.7,"SGCA":55,"SGGoi":36,"SGGCA":56},{"t":64.9,"SGCA":40,"SGGoi":51,"SGGCA":42},
      {"t":65.1,"SGCA":53,"SGGoi":31,"SGGCA":50},{"t":65.3,"SGCA":37,"SGGoi":46,"SGGCA":35},{"t":65.5,"SGCA":50,"SGGoi":33,"SGGCA":49},{"t":65.7,"SGCA":35,"SGGoi":44,"SGGCA":33},{"t":65.9,"SGCA":48,"SGGoi":30,"SGGCA":47},
      {"t":66.1,"SGCA":32,"SGGoi":43,"SGGCA":31},{"t":66.3,"SGCA":47,"SGGoi":29,"SGGCA":46},{"t":66.5,"SGCA":35,"SGGoi":41,"SGGCA":34},{"t":66.7,"SGCA":44,"SGGoi":28,"SGGCA":44},{"t":66.9,"SGCA":31,"SGGoi":40,"SGGCA":30},
      {"t":67.1,"SGCA":43,"SGGoi":26,"SGGCA":42},{"t":67.3,"SGCA":29,"SGGoi":39,"SGGCA":27},{"t":67.5,"SGCA":41,"SGGoi":28,"SGGCA":40},{"t":67.7,"SGCA":27,"SGGoi":40,"SGGCA":29},{"t":67.9,"SGCA":40,"SGGoi":25,"SGGCA":43},
      {"t":68.1,"SGCA":26,"SGGoi":38,"SGGCA":25},{"t":68.3,"SGCA":40,"SGGoi":24,"SGGCA":40},{"t":68.5,"SGCA":28,"SGGoi":36,"SGGCA":27},{"t":68.7,"SGCA":39,"SGGoi":23,"SGGCA":39},{"t":68.9,"SGCA":25,"SGGoi":37,"SGGCA":26},
      {"t":69.1,"SGCA":38,"SGGoi":22,"SGGCA":38},{"t":69.3,"SGCA":23,"SGGoi":36,"SGGCA":24},{"t":69.5,"SGCA":36,"SGGoi":24,"SGGCA":37},{"t":69.7,"SGCA":24,"SGGoi":35,"SGGCA":23},{"t":69.9,"SGCA":39,"SGGoi":21,"SGGCA":36},
      {"t":70.1,"SGCA":36,"SGGoi":21,"SGGCA":39},{"t":70.3,"SGCA":22,"SGGoi":35,"SGGCA":24},{"t":70.5,"SGCA":33,"SGGoi":24,"SGGCA":36},{"t":70.7,"SGCA":19,"SGGoi":38,"SGGCA":21},{"t":70.9,"SGCA":38,"SGGoi":26,"SGGCA":34},
      {"t":71.1,"SGCA":20,"SGGoi":34,"SGGCA":23},{"t":71.3,"SGCA":37,"SGGoi":22,"SGGCA":38},{"t":71.5,"SGCA":25,"SGGoi":37,"SGGCA":20},{"t":71.7,"SGCA":35,"SGGoi":19,"SGGCA":35},{"t":71.9,"SGCA":22,"SGGoi":31,"SGGCA":26},
      {"t":72.1,"SGCA":38,"SGGoi":22,"SGGCA":36},{"t":72.3,"SGCA":24,"SGGoi":36,"SGGCA":21},{"t":72.5,"SGCA":34,"SGGoi":20,"SGGCA":39},{"t":72.7,"SGCA":18,"SGGoi":33,"SGGCA":24},{"t":72.9,"SGCA":32,"SGGoi":24,"SGGCA":37},
      {"t":73.1,"SGCA":21,"SGGoi":35,"SGGCA":22},{"t":73.3,"SGCA":35,"SGGoi":19,"SGGCA":37},{"t":73.5,"SGCA":26,"SGGoi":31,"SGGCA":25},{"t":73.7,"SGCA":40,"SGGoi":23,"SGGCA":40},{"t":73.9,"SGCA":23,"SGGoi":37,"SGGCA":20},
      {"t":74.1,"SGCA":36,"SGGoi":20,"SGGCA":38},{"t":74.3,"SGCA":20,"SGGoi":33,"SGGCA":23},{"t":74.5,"SGCA":31,"SGGoi":24,"SGGCA":35},{"t":74.7,"SGCA":24,"SGGoi":38,"SGGCA":19},{"t":74.9,"SGCA":39,"SGGoi":21,"SGGCA":34},
      {"t":75.1,"SGCA":22,"SGGoi":34,"SGGCA":21},{"t":75.3,"SGCA":41,"SGGoi":22,"SGGCA":40},{"t":75.5,"SGCA":24,"SGGoi":37,"SGGCA":24},{"t":75.7,"SGCA":35,"SGGoi":18,"SGGCA":37},{"t":75.9,"SGCA":18,"SGGoi":31,"SGGCA":23},
      {"t":76.1,"SGCA":37,"SGGoi":20,"SGGCA":36},{"t":76.3,"SGCA":19,"SGGoi":34,"SGGCA":20},{"t":76.5,"SGCA":33,"SGGoi":23,"SGGCA":38},{"t":76.7,"SGCA":25,"SGGoi":36,"SGGCA":22},{"t":76.9,"SGCA":36,"SGGoi":22,"SGGCA":35},
      {"t":77.1,"SGCA":20,"SGGoi":33,"SGGCA":22},{"t":77.3,"SGCA":35,"SGGoi":19,"SGGCA":39},{"t":77.5,"SGCA":24,"SGGoi":36,"SGGCA":25},{"t":77.7,"SGCA":39,"SGGoi":24,"SGGCA":36},{"t":77.9,"SGCA":21,"SGGoi":30,"SGGCA":19},
      {"t":78.1,"SGCA":35,"SGGoi":21,"SGGCA":37},{"t":78.3,"SGCA":22,"SGGoi":35,"SGGCA":21},{"t":78.5,"SGCA":37,"SGGoi":18,"SGGCA":34},{"t":78.7,"SGCA":19,"SGGoi":32,"SGGCA":24},{"t":78.9,"SGCA":33,"SGGoi":23,"SGGCA":38},
      {"t":79.1,"SGCA":19,"SGGoi":32,"SGGCA":21},{"t":79.3,"SGCA":34,"SGGoi":20,"SGGCA":35},{"t":79.5,"SGCA":23,"SGGoi":35,"SGGCA":18},{"t":79.7,"SGCA":37,"SGGoi":19,"SGGCA":33},{"t":79.9,"SGCA":21,"SGGoi":30,"SGGCA":24}
    ]
  },
  "transform": [
    {"fold": ["SGCA", "SGGoi", "SGGCA"], "as": ["amostra", "intensidade"]}
  ],
  "mark": {"type": "line", "strokeWidth": 1, "strokeJoin": "bevel", "clip": true},
  "encoding": {
    "x": {
      "field": "t", "type": "quantitative",
      "scale": {"domain": [9.5, 80.5], "nice": false, "zero": false},
      "axis": {
        "title": "2θ (graus)",
        "values": [10, 12.5, 15, 17.5, 20, 22.5, 25, 27.5, 30, 32.5, 35, 37.5, 40, 42.5, 45, 47.5, 50, 52.5, 55, 57.5, 60, 62.5, 65, 67.5, 70, 72.5, 75, 77.5, 80],
        "labelExpr": "datum.value % 5 === 0 ? datum.label : ''",
        "labelOverlap": false,
        "tickSize": {"condition": {"test": "datum.value % 5 === 0", "value": 7}, "value": 4},
        "labelPadding": 8,
        "titlePadding": 11
      }
    },
    "y": {
      "field": "intensidade", "type": "quantitative",
      "scale": {"domain": [0, 175], "nice": false},
      "axis": {
        "title": "Intensidade (u.a.)",
        "values": [0, 25, 50, 75, 100, 125, 150, 175],
        "labelExpr": "datum.value % 50 === 0 ? datum.label : ''",
        "labelOverlap": false,
        "tickSize": {"condition": {"test": "datum.value % 50 === 0", "value": 8}, "value": 5},
        "labelPadding": 5,
        "titleX": -67,
        "titleY": 242,
        "titleBaseline": "middle"
      }
    },
    "color": {
      "field": "amostra", "type": "nominal",
      "scale": {"domain": ["SGCA", "SGGoi", "SGGCA"], "range": ["#000000", "#ff0000", "#0000ff"]},
      "legend": {
        "title": null,
        "orient": "none",
        "legendX": 357,
        "legendY": 14.5,
        "symbolType": "M-1,0H3",
        "symbolSize": 576,
        "symbolStrokeWidth": 1,
        "labelFontSize": 21,
        "labelColor": "black",
        "labelOffset": 30,
        "rowPadding": 3,
        "padding": 3,
        "strokeColor": "#777777",
        "fillColor": "white"
      }
    }
  }
}
